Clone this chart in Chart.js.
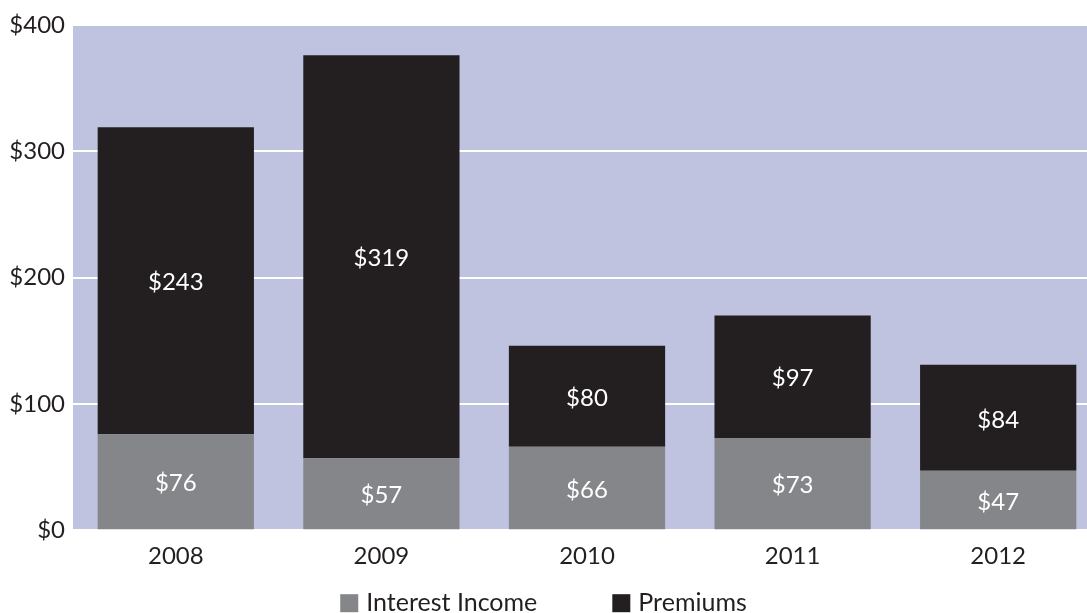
<!DOCTYPE html>
<html>
<head>
<meta charset="utf-8">
<script src="https://cdn.jsdelivr.net/npm/chart.js@4/dist/chart.umd.min.js"></script>
<style>
  html, body { margin: 0; padding: 0; background: #fff; overflow: hidden; }
  #wrap { width: 1087px; height: 613px; overflow: hidden; position: relative; }
  canvas { display: block; }
</style>
</head>
<body>
<div id="wrap"><canvas id="chart" width="1101" height="640"></canvas></div>
<script>
const years = ["2008", "2009", "2010", "2011", "2012"];
const interestIncome = [76, 57, 66, 73, 47];
const premiums = [243, 319, 80, 97, 84];
const yTicks = [0, 100, 200, 300, 400];

const textColor = "#231f20";
const fontFamily = "Lato, 'Open Sans', sans-serif";
const visibleWidth = 1087;

// lavender panel behind the bars
const panelBg = {
  id: "panelBg",
  beforeDraw(chart) {
    const { ctx, chartArea: a } = chart;
    ctx.save();
    ctx.fillStyle = "#bfc3df";
    ctx.fillRect(a.left, a.top, a.right - a.left, a.bottom - a.top);
    ctx.restore();
  },
};

// white dollar labels centred in each segment
const segmentLabels = {
  id: "segmentLabels",
  afterDatasetsDraw(chart) {
    const ctx = chart.ctx;
    ctx.save();
    ctx.fillStyle = "#ffffff";
    ctx.font = "24px " + fontFamily;
    ctx.textAlign = "center";
    ctx.textBaseline = "middle";
    chart.data.datasets.forEach((ds, i) => {
      const meta = chart.getDatasetMeta(i);
      meta.data.forEach((bar, j) => {
        const p = bar.getProps(["x", "y", "base"], true);
        ctx.fillText("$" + ds.data[j], p.x, (p.y + p.base) / 2 + 2);
      });
    });
    ctx.restore();
  },
};

// simple square-swatch legend under the axis, wide gap between items
const bottomLegend = {
  id: "bottomLegend",
  afterDraw(chart) {
    const ctx = chart.ctx;
    const box = 18, gapText = 8, gapItem = 75;
    ctx.save();
    ctx.font = "25px " + fontFamily;
    ctx.textBaseline = "middle";
    const items = chart.data.datasets.map((ds) => ({
      label: ds.label,
      color: ds.backgroundColor,
      w: box + gapText + ctx.measureText(ds.label).width,
    }));
    const total = items.reduce((acc, it) => acc + it.w, 0) + gapItem * (items.length - 1);
    let x = (visibleWidth - total) / 2;
    const y = chart.chartArea.bottom + 73;
    items.forEach((it) => {
      ctx.fillStyle = it.color;
      ctx.fillRect(x, y - box / 2, box, box);
      ctx.fillStyle = textColor;
      ctx.fillText(it.label, x + box + gapText, y);
      x += it.w + gapItem;
    });
    ctx.restore();
  },
};

const ctx = document.getElementById("chart").getContext("2d");

new Chart(ctx, {
  type: "bar",
  data: {
    labels: years,
    datasets: [
      {
        label: "Interest Income",
        data: interestIncome,
        backgroundColor: "#858689",
        categoryPercentage: 0.76,
        barPercentage: 1,
      },
      {
        label: "Premiums",
        data: premiums,
        backgroundColor: "#231f20",
        categoryPercentage: 0.76,
        barPercentage: 1,
      },
    ],
  },
  options: {
    responsive: false,
    animation: false,
    devicePixelRatio: 1,
    layout: {
      padding: { top: 25, left: 0, right: 0, bottom: 65 },
    },
    scales: {
      x: {
        stacked: true,
        grid: { display: false },
        border: { display: false },
        ticks: {
          color: textColor,
          font: { family: fontFamily, size: 24 },
          padding: 4,
        },
      },
      y: {
        stacked: true,
        min: 0,
        max: 400,
        afterBuildTicks: (scale) => {
          scale.ticks = yTicks.map((v) => ({ value: v }));
        },
        afterFit: (scale) => {
          scale.width = 73;
        },
        grid: { color: "#ffffff", lineWidth: 2, drawTicks: false },
        border: { display: false },
        ticks: {
          color: textColor,
          font: { family: fontFamily, size: 24 },
          padding: 8,
          callback: (v) => "$" + v,
        },
      },
    },
    plugins: {
      legend: { display: false },
      tooltip: { enabled: false },
    },
  },
  plugins: [panelBg, segmentLabels, bottomLegend],
});
</script>
</body>
</html>
